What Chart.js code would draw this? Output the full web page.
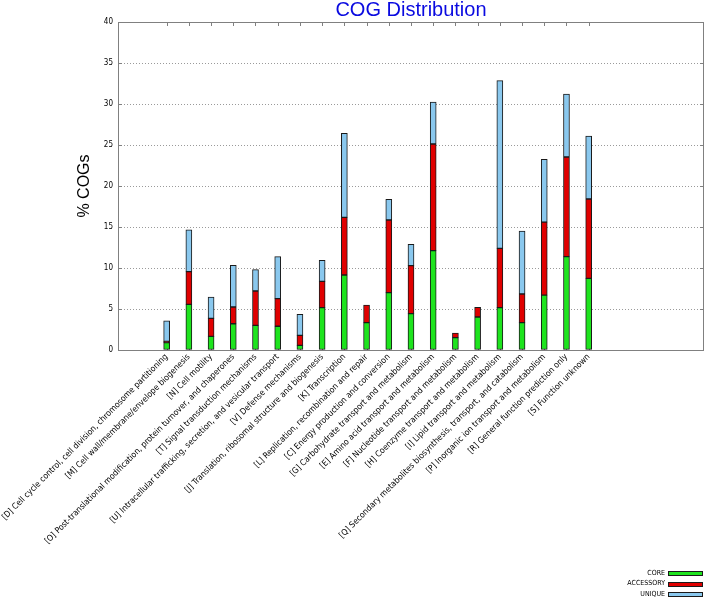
<!DOCTYPE html>
<html><head><meta charset="utf-8">
<script src="https://cdn.jsdelivr.net/npm/chart.js@4.4.1/dist/chart.umd.min.js"></script>
<style>html,body{margin:0;padding:0;background:#fff}#wrap{width:709px;height:601px;position:relative}</style>
</head><body><div id="wrap"><canvas id="c"></canvas></div>
<script>
const categories = [
  "[D] Cell cycle control, cell division, chromosome partitioning",
  "[M] Cell wall/membrane/envelope biogenesis",
  "[N] Cell motility",
  "[O] Post-translational modification, protein turnover, and chaperones",
  "[T] Signal transduction mechanisms",
  "[U] Intracellular trafficking, secretion, and vesicular transport",
  "[V] Defense mechanisms",
  "[J] Translation, ribosomal structure and biogenesis",
  "[K] Transcription",
  "[L] Replication, recombination and repair",
  "[C] Energy production and conversion",
  "[G] Carbohydrate transport and metabolism",
  "[E] Amino acid transport and metabolism",
  "[F] Nucleotide transport and metabolism",
  "[H] Coenzyme transport and metabolism",
  "[I] Lipid transport and metabolism",
  "[Q] Secondary metabolites biosynthesis, transport, and catabolism",
  "[P] Inorganic ion transport and metabolism",
  "[R] General function prediction only",
  "[S] Function unknown"
];
const coreValues      = [0.9, 5.57, 1.67, 3.2, 3.0, 2.9, 0.57, 5.16, 9.15, 3.33, 6.99, 4.43, 12.11, 1.5, 4.02, 5.16, 3.33, 6.7, 11.38, 8.74];
const accessoryValues = [0.15, 3.98, 2.19, 2.04, 4.2, 3.36, 1.22, 3.21, 7.03, 2.16, 8.86, 5.85, 13.01, 0.57, 1.18, 7.24, 3.5, 8.9, 12.16, 9.67];
const uniqueValues    = [2.5, 5.12, 2.6, 5.09, 2.6, 5.12, 2.56, 2.56, 10.24, 0, 2.52, 2.61, 5.12, 0, 0, 20.45, 7.67, 7.65, 7.68, 7.69];
const seriesNames = ["CORE", "ACCESSORY", "UNIQUE"];
const seriesColors = ["#1ee41e", "#e00000", "#8ac8ee"];
const yTickValues = [0, 5, 10, 15, 20, 25, 30, 35, 40];
const chartTitle = "COG Distribution";
const yAxisTitle = "% COGs";

const seriesValues = [coreValues, accessoryValues, uniqueValues];
const TICK_FONT = {family: "'DejaVu Sans Condensed', 'DejaVu Sans', sans-serif", size: 8};
const LABEL_FONT = {family: "'DejaVu Sans Condensed', 'DejaVu Sans', sans-serif", size: 8.5};

const framePlugin = {
  id: 'frame',
  beforeDatasetsDraw(chart) {
    const {ctx, chartArea: a, scales} = chart;
    ctx.save();
    ctx.strokeStyle = '#808080';
    ctx.lineWidth = 1;
    ctx.strokeRect(Math.round(a.left) + 0.5, Math.round(a.top) + 0.5, Math.round(a.right - a.left) - 1, Math.round(a.bottom - a.top));
    ctx.beginPath();
    categories.forEach((c, i) => {
      const x = Math.round(scales.x.getPixelForValue(i)) + 0.5;
      ctx.moveTo(x, a.top); ctx.lineTo(x, a.top + 4);
      ctx.moveTo(x, a.bottom); ctx.lineTo(x, a.bottom - 4);
    });
    yTickValues.forEach(v => {
      const y = Math.round(scales.y.getPixelForValue(v)) + 0.5;
      ctx.moveTo(a.left, y); ctx.lineTo(a.left + 4, y);
      ctx.moveTo(a.right, y); ctx.lineTo(a.right - 4, y);
    });
    ctx.stroke();
    ctx.restore();
  },
  afterDraw(chart) {
    const {ctx} = chart;
    ctx.save();
    ctx.font = "7px 'DejaVu Sans Condensed', 'DejaVu Sans', sans-serif";
    ctx.textAlign = 'right';
    ctx.textBaseline = 'middle';
    chart.data.datasets.forEach((ds, i) => {
      const y = 573 + i * 10.5;
      ctx.fillStyle = '#000';
      ctx.fillText(ds.label, 665, y);
      ctx.fillStyle = ds.backgroundColor;
      ctx.fillRect(668, Math.round(y) - 2, 35, 5);
      ctx.strokeStyle = '#1a1a1a';
      ctx.lineWidth = 1;
      ctx.strokeRect(668.5, Math.round(y) - 1.5, 34, 4);
    });
    ctx.restore();
  }
};

new Chart(document.getElementById('c'), {
  type: 'bar',
  data: {
    datasets: seriesNames.map((name, k) => ({
      label: name,
      data: seriesValues[k].map((v, i) => ({x: i, y: v})),
      backgroundColor: seriesColors[k],
      borderColor: '#1a1a1a',
      borderWidth: 1,
      borderSkipped: false,
      barThickness: 6
    }))
  },
  options: {
    responsive: true,
    maintainAspectRatio: false,
    animation: false,
    layout: {padding: {left: 0, right: 1, top: 0, bottom: 0}},
    plugins: {
      legend: {display: false},
      tooltip: {enabled: false},
      title: {
        display: true, text: chartTitle, color: '#0a0ae0', fullSize: false,
        font: {family: "'Liberation Sans', Arial, sans-serif", size: 20, weight: 'normal', lineHeight: 0.9},
        padding: {top: 1, bottom: 3}
      }
    },
    scales: {
      x: {
        type: 'linear', stacked: true, min: -2.19, max: 24.19, offset: false,
        grid: {display: false, drawTicks: false},
        border: {display: false},
        ticks: {
          stepSize: 1, autoSkip: false, includeBounds: false,
          maxRotation: 45, minRotation: 45, padding: 2, color: '#000', font: LABEL_FONT,
          callback: v => (Number.isInteger(v) && categories[v]) ? categories[v] : ''
        },
        afterFit: s => { s.height = 251; }
      },
      y: {
        stacked: true, min: 0, max: 40,
        grid: {color: c => (c.tick && (c.tick.value === 0 || c.tick.value === 40)) ? 'rgba(0,0,0,0)' : '#9a9a9a', drawTicks: false, borderDash: [1, 2]},
        border: {display: false, dash: [1, 2]},
        ticks: {stepSize: 5, padding: 5, color: '#000', font: TICK_FONT},
        title: {display: true, text: yAxisTitle, color: '#000', font: {family: "'Liberation Sans', Arial, sans-serif", size: 16}, padding: {top: 75, bottom: 0}},
        afterFit: s => { s.width = 118; }
      }
    }
  },
  plugins: [framePlugin]
});
</script></body></html>
